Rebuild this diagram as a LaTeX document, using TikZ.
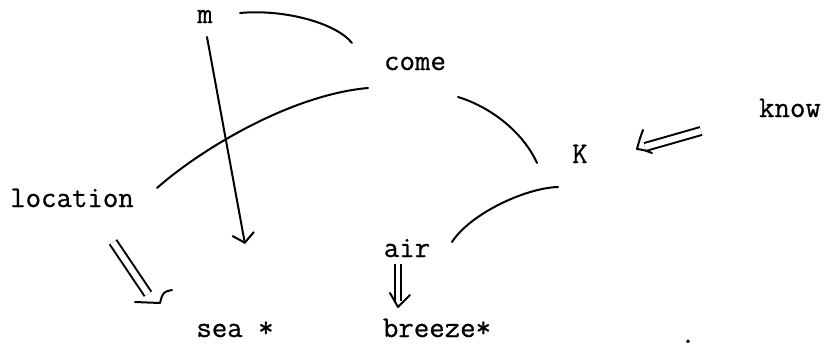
\documentclass[tikz,border=0pt]{standalone}
\usepackage{fontspec}
\newfontfamily\twfont{Latin Modern Mono}[FakeBold=0.7,AutoFakeBold=0.7]
\usetikzlibrary{arrows.meta}
\begin{document}
\begin{tikzpicture}[x=1pt,y=-1pt,
  lbl/.style={anchor=base, inner sep=0pt, font=\fontsize{30}{32}\twfont\bfseries},
  link/.style={line width=2pt, line cap=round},
  dbl/.style={line width=2pt, double, double distance=6pt},
  head/.style={line width=2pt, line cap=round, line join=round}]
\useasboundingbox (0,0) rectangle (825,351);
% labels
\node[lbl] (m) at (205,23) {m};
\node[lbl] (come) at (415,70) {come};
\node[lbl] (know) at (790,117) {know};
\node[lbl] (K) at (580,163) {K};
\node[lbl] (location) at (72,207) {location};
\node[lbl] (air) at (407,257) {air};
\node[lbl] (sea) at (235,337) {sea *};
\node[lbl] (breeze) at (437,337) {breeze*};
\node[lbl] (dot) at (688,343) {.};
% connector end points
\coordinate (mR) at (240,13);
\coordinate (comeUL) at (352,43);
\coordinate (comeL) at (368,88);
\coordinate (locR) at (157,188);
\coordinate (mB) at (207,37);
\coordinate (seaT) at (245,244);
\coordinate (comeR) at (458,97);
\coordinate (KL) at (537,163);
\coordinate (KB) at (558,187);
\coordinate (airR) at (452,242);
\coordinate (knowL) at (701,131);
\coordinate (knowE) at (645,147);
\coordinate (locB) at (113,242);
\coordinate (locE) at (148,294);
\coordinate (airB) at (398,264);
\coordinate (airE) at (398,301);
% arcs
\draw[link] (mR) .. controls (282,9) and (335,22) .. (comeUL);
\draw[link] (locR) .. controls (200,150) and (290,95) .. (comeL);
\draw[link] (comeR) .. controls (488,106) and (522,130) .. (KL);
\draw[link] (KB) .. controls (525,188) and (470,214) .. (airR);
% m -> sea
\draw[link, -{Straight Barb[length=9pt,width=22pt]}] (mB) -- (seaT);
% know => K
\draw[dbl] (knowL) -- (knowE);
\draw[head] (643,130) .. controls (640,138) .. (637,149) .. controls (644,150) .. (652,153);
% location => sea
\draw[dbl] (locB) -- (locE);
\draw[head] (135,302) -- (160,303) .. controls (163,292) .. (172,290);
% air => breeze
\draw[dbl, double distance=4.5pt] (airB) -- (airE);
\draw[head] (390,293) -- (398,307) -- (410,295);
\end{tikzpicture}
\end{document}
